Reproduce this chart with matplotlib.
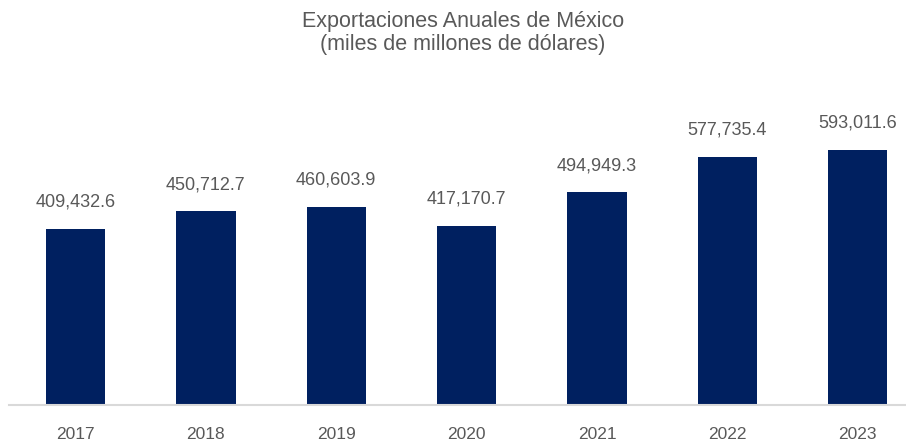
import matplotlib
import matplotlib.pyplot as plt

matplotlib.use('Agg')

# Annual exports, thousands of millions of dollars
years = ['2017', '2018', '2019', '2020', '2021', '2022', '2023']
exports = [409432.6, 450712.7, 460603.9, 417170.7, 494949.3, 577735.4, 593011.6]

BAR_COLOR = '#002060'
TEXT_COLOR = '#595959'

plt.rcParams['font.family'] = ['Liberation Sans', 'DejaVu Sans']

fig = plt.figure(figsize=(9.06, 4.42), dpi=100)
ax = fig.add_axes([9 / 906, 37 / 442, 897 / 906, 301 / 442])

x = range(len(years))
bars = ax.bar(x, exports, width=0.455, color=BAR_COLOR, zorder=2)

# Value labels over each bar
for rect, val in zip(bars, exports):
    ax.annotate(f'{val:,.1f}',
                xy=(rect.get_x() + rect.get_width() / 2, rect.get_height()),
                xytext=(0, 13), textcoords='offset points',
                ha='center', va='bottom', fontsize=13, color=TEXT_COLOR)

ax.set_xlim(-0.51, 6.37)
ax.set_ylim(0, 700000)
ax.set_xticks(list(x))
ax.set_xticklabels(years, fontsize=12.5, color=TEXT_COLOR)
ax.tick_params(axis='x', length=0, pad=16)
ax.set_yticks([])

for side in ('left', 'right', 'top'):
    ax.spines[side].set_visible(False)
ax.spines['bottom'].set_color('#d9d9d9')
ax.spines['bottom'].set_linewidth(1.5)

fig.text(0.511, 0.975, 'Exportaciones Anuales de México\n(miles de millones de dólares)',
         ha='center', va='top', fontsize=15.5, color=TEXT_COLOR,
         linespacing=1.1)

fig.savefig('out.png', dpi=100)
